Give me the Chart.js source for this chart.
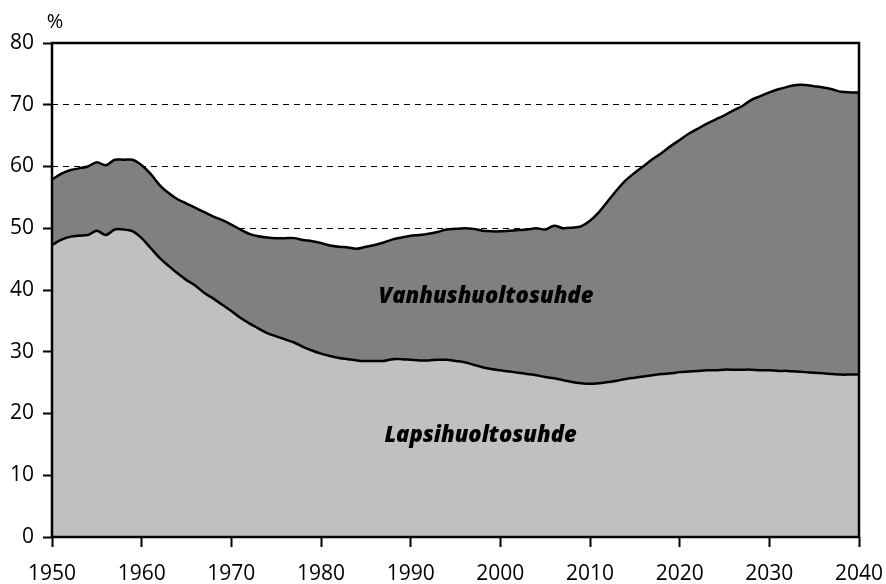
<!DOCTYPE html>
<html>
<head>
<meta charset="utf-8">
<script src="https://cdn.jsdelivr.net/npm/chart.js@4/dist/chart.umd.min.js"></script>
<style>
  html, body { margin: 0; padding: 0; background: #fff; }
  #wrap { width: 886px; height: 584px; position: relative; }
</style>
</head>
<body>
<div id="wrap"><canvas id="chart"></canvas></div>
<script>
// Huoltosuhteet 1950-2040 (%), luettu kuvasta
const firstYear = 1950;
const lastYear = 2040;
const xTicks = [1950, 1960, 1970, 1980, 1990, 2000, 2010, 2020, 2030, 2040];
const yTicks = [0, 10, 20, 30, 40, 50, 60, 70, 80];

// Lapsihuoltosuhde, vuodet 1950..2040
const lapsi = [
  47.3, 48.1, 48.6, 48.8, 48.9, 49.6, 48.9, 49.8, 49.8, 49.5,
  48.4, 46.8, 45.2, 43.9, 42.7, 41.6, 40.7, 39.5, 38.6, 37.6,
  36.6, 35.5, 34.6, 33.8, 33.0, 32.5, 32.0, 31.5, 30.8, 30.2,
  29.7, 29.3, 29.0, 28.8, 28.6, 28.5, 28.5, 28.5, 28.8, 28.8,
  28.7, 28.6, 28.6, 28.7, 28.7, 28.5, 28.3, 27.9, 27.5, 27.2,
  27.0, 26.8, 26.6, 26.4, 26.2, 25.9, 25.7, 25.4, 25.1, 24.9,
  24.8, 24.9, 25.1, 25.3, 25.6, 25.8, 26.0, 26.2, 26.4, 26.5,
  26.7, 26.8, 26.9, 27.0, 27.0, 27.1, 27.1, 27.1, 27.1, 27.0,
  27.0, 26.9, 26.9, 26.8, 26.7, 26.6, 26.5, 26.4, 26.3, 26.3,
  26.3
];

// Vanhushuoltosuhde, vuodet 1950..2040 (pinottuna lapsihuoltosuhteen päälle)
const vanhus = [
  10.6, 10.7, 10.8, 10.9, 11.1, 11.1, 11.3, 11.3, 11.3, 11.6,
  11.8, 12.0, 11.8, 11.8, 12.0, 12.4, 12.6, 13.1, 13.3, 13.7,
  14.0, 14.3, 14.5, 14.9, 15.5, 15.9, 16.4, 16.9, 17.3, 17.7,
  17.9, 17.9, 18.0, 18.1, 18.1, 18.5, 18.8, 19.2, 19.4, 19.7,
  20.1, 20.3, 20.5, 20.7, 21.1, 21.4, 21.7, 22.0, 22.1, 22.3,
  22.5, 22.8, 23.1, 23.4, 23.8, 23.9, 24.7, 24.6, 25.0, 25.4,
  26.4, 27.7, 29.3, 30.9, 32.2, 33.2, 34.1, 35.0, 35.8, 36.8,
  37.6, 38.5, 39.2, 39.9, 40.6, 41.2, 42.0, 42.7, 43.7, 44.4,
  45.0, 45.6, 46.0, 46.4, 46.5, 46.4, 46.3, 46.1, 45.8, 45.7,
  45.7
];

const years = Array.from({ length: lastYear - firstYear + 1 }, (_, i) => firstYear + i);

const FONT = '"Open Sans", "Noto Sans", sans-serif';

// series labels placed in data coordinates
const areaLabels = [
  { text: 'Vanhushuoltosuhde', x: 1998.4, y: 38.9 },
  { text: 'Lapsihuoltosuhde', x: 1997.8, y: 16.4 }
];

const framePlugin = {
  id: 'frame',
  afterDatasetsDraw(chart) {
    const { ctx, chartArea: a, scales } = chart;
    ctx.save();
    // chart frame
    ctx.strokeStyle = '#000';
    ctx.lineWidth = 2.5;
    ctx.strokeRect(a.left, a.top, a.right - a.left, a.bottom - a.top);
    // area labels
    ctx.fillStyle = '#000';
    ctx.font = 'italic 800 22px ' + FONT;
    ctx.textAlign = 'center';
    ctx.textBaseline = 'middle';
    areaLabels.forEach(l => {
      ctx.fillText(l.text, scales.x.getPixelForValue(l.x), scales.y.getPixelForValue(l.y));
    });
    // unit
    ctx.font = '20px ' + FONT;
    ctx.fillText('%', a.left + 3, a.top - 21);
    ctx.restore();
  }
};

new Chart(document.getElementById('chart'), {
  type: 'line',
  data: {
    datasets: [
      {
        label: 'Lapsihuoltosuhde',
        data: years.map((y, i) => ({ x: y, y: lapsi[i] })),
        borderColor: '#000',
        borderWidth: 2.5,
        backgroundColor: '#c0c0c0',
        fill: 'origin',
        pointRadius: 0,
        tension: 0.3
      },
      {
        label: 'Vanhushuoltosuhde',
        data: years.map((y, i) => ({ x: y, y: vanhus[i] })),
        borderColor: '#000',
        borderWidth: 2.5,
        backgroundColor: '#808080',
        fill: '-1',
        pointRadius: 0,
        tension: 0.3
      }
    ]
  },
  options: {
    responsive: true,
    maintainAspectRatio: false,
    animation: false,
    layout: { padding: { top: 43, right: 27, left: 0, bottom: 0 } },
    plugins: {
      legend: { display: false },
      tooltip: { enabled: false }
    },
    scales: {
      x: {
        type: 'linear',
        min: firstYear,
        max: lastYear,
        afterFit(scale) {
          scale.height = 47;
          scale.paddingLeft = 0;
          scale.paddingRight = 0;
        },
        afterBuildTicks(scale) { scale.ticks = xTicks.map(v => ({ value: v })); },
        ticks: {
          color: '#000',
          font: { family: FONT, size: 21 },
          padding: 14,
          maxRotation: 0,
          autoSkip: false,
          callback: v => String(v)
        },
        grid: {
          drawOnChartArea: false,
          drawTicks: true,
          tickLength: 10,
          tickWidth: 2,
          tickColor: '#000'
        },
        border: { display: false }
      },
      y: {
        stacked: true,
        min: 0,
        max: 80,
        afterFit(scale) {
          scale.width = 52;
          scale.paddingTop = 0;
          scale.paddingBottom = 0;
        },
        afterBuildTicks(scale) { scale.ticks = yTicks.map(v => ({ value: v })); },
        ticks: {
          color: '#000',
          font: { family: FONT, size: 21 },
          padding: 9
        },
        grid: {
          color: '#000',
          lineWidth: 1,
          tickBorderDash: [],
          tickLength: 9,
          tickWidth: 2,
          tickColor: '#000'
        },
        border: { display: false, dash: [6, 5] }
      }
    }
  },
  plugins: [framePlugin]
});
</script>
</body>
</html>
